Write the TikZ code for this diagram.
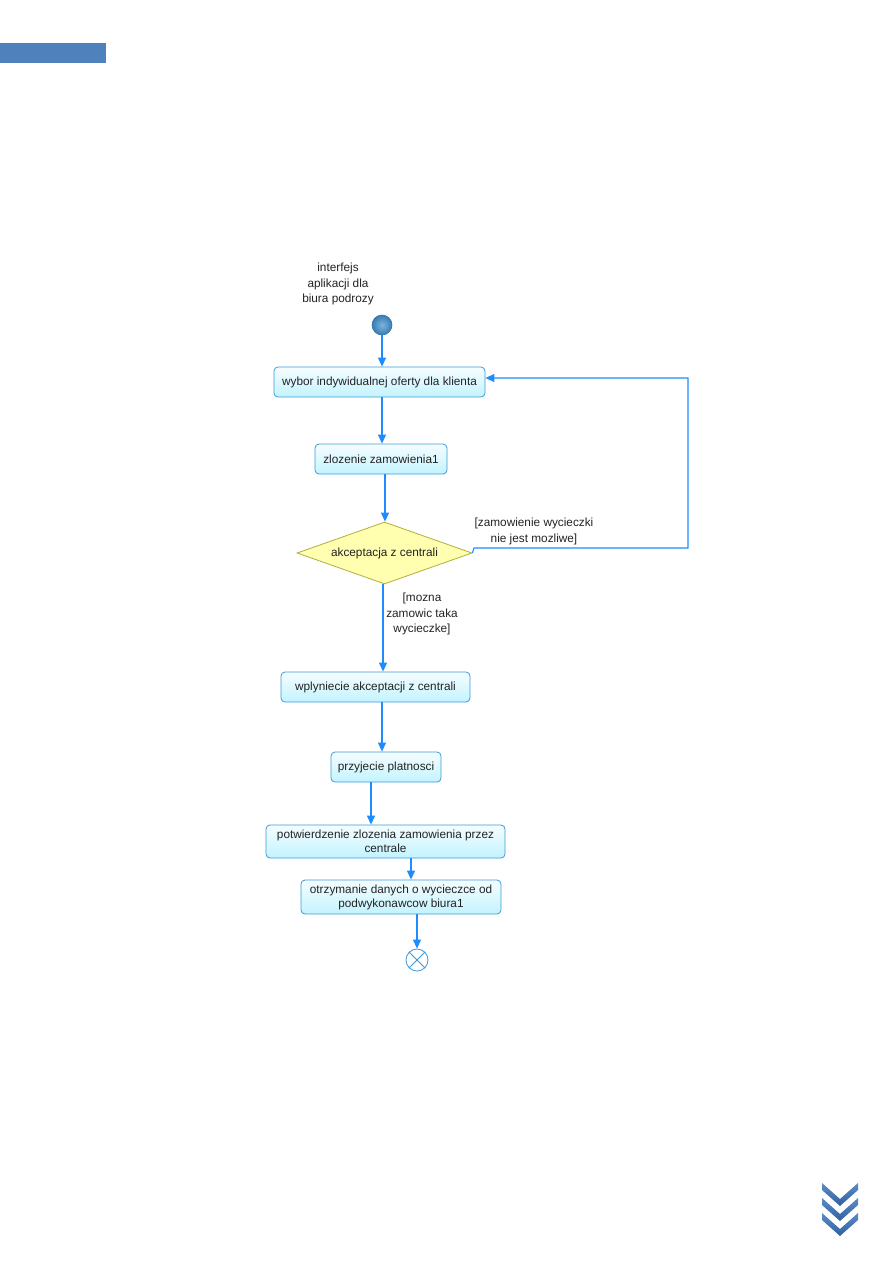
\documentclass[tikz,border=0pt]{standalone}
\usepackage{fontspec}
\setmainfont{Liberation Sans}
\usetikzlibrary{arrows.meta,shapes.geometric,shadings}
\definecolor{flow}{RGB}{30,140,255}
\definecolor{boxline}{RGB}{60,155,215}
\definecolor{boxtop}{RGB}{245,253,255}
\definecolor{boxbot}{RGB}{195,243,255}
\definecolor{diafill}{RGB}{255,255,175}
\definecolor{dialine}{RGB}{175,175,60}
\definecolor{barblue}{RGB}{79,129,189}
\definecolor{txt}{RGB}{35,35,35}
\definecolor{ballin}{RGB}{125,180,220}
\definecolor{ballout}{RGB}{55,125,180}
\tikzset{
  actbox/.style={draw=boxline, line width=0.8pt, rounded corners=4pt,
    top color=boxtop, bottom color=boxbot, inner sep=0pt, align=center,
    text=txt, font=\fontsize{11.8}{14}\selectfont},
  decision/.style={diamond, aspect=2.82, draw=dialine, line width=0.8pt, fill=diafill,
    inner sep=0pt, text=txt, font=\fontsize{11.8}{14}\selectfont},
  flowline/.style={draw=flow, line width=1.1pt, -{Triangle[width=8pt,length=9pt]}},
  guard/.style={text=txt, font=\fontsize{11.8}{15.5}\selectfont, align=center, inner sep=0pt}
}
\begin{document}
\begin{tikzpicture}[x=1pt,y=-1pt]
\useasboundingbox (0,0) rectangle (893,1263);
% header bar
\fill[barblue] (0,43) rectangle (106,63);
% start label
\node[guard] (lbl) at (338,284) {interfejs\\aplikacji dla\\biura podrozy};
% start node
\node[circle, minimum size=20pt, inner sep=0pt, draw={rgb,255:red,50;green,115;blue,165}, line width=0.6pt,
  inner color=ballin, outer color=ballout] (start) at (382,325) {};
% activities
\node[actbox, minimum width=211pt, minimum height=30pt] (b1) at (379.5,382) {wybor indywidualnej oferty dla klienta};
\node[actbox, minimum width=132pt, minimum height=30pt] (b2) at (381,459) {zlozenie zamowienia1};
\node[decision, minimum width=175pt, minimum height=62pt] (dia) at (384.5,553) {akceptacja z centrali};
\node[actbox, minimum width=189pt, minimum height=30pt] (b3) at (375.5,687) {wplyniecie akceptacji z centrali};
\node[actbox, minimum width=110pt, minimum height=30pt] (b4) at (386,767) {przyjecie platnosci};
\node[actbox, minimum width=239pt, minimum height=33pt] (b5) at (385.5,841.5) {potwierdzenie zlozenia zamowienia przez\\centrale};
\node[actbox, minimum width=200pt, minimum height=34pt] (b6) at (401,897) {otrzymanie danych o wycieczce od\\podwykonawcow biura1};
% end node
\node[circle, minimum size=22pt, inner sep=0pt, draw=boxline, line width=0.8pt, fill=white] (end) at (417,960) {};
\draw[boxline, line width=0.8pt] (end.north east) -- (end.south west) (end.north west) -- (end.south east);
% helper x positions
\coordinate (x1) at (382,0);
\coordinate (x2) at (385,0);
\coordinate (x3) at (383,0);
\coordinate (x4) at (371,0);
\coordinate (x5) at (411,0);
\coordinate (r0) at (474,548);
\coordinate (r1) at (688,548);
\coordinate (r2) at (688,378);
% flows
\draw[flowline] (start.south) -- (start |- b1.north);
\draw[flowline] (x1 |- b1.south) -- (x1 |- b2.north);
\draw[flowline] (x2 |- b2.south) -- (x2 |- dia.north);
\draw[flowline] (x3 |- dia.south) -- (x3 |- b3.north);
\node[guard] (g2) at (422,614) {[mozna\\zamowic taka\\wycieczke]};
\draw[flowline] (dia.east) -- (r0) -- (r1) -- (r2) -- (b1.east |- r2);
\node[guard, font=\fontsize{11.8}{16}\selectfont] (g1) at (534,531) {[zamowienie wycieczki\\nie jest mozliwe]};
\draw[flowline] (x1 |- b3.south) -- (x1 |- b4.north);
\draw[flowline] (x4 |- b4.south) -- (x4 |- b5.north);
\draw[flowline] (x5 |- b5.south) -- (x5 |- b6.north);
\draw[flowline] (end |- b6.south) -- (end.north);
% chevrons
\foreach \dy in {0,15,30} {
  \shade[top color={rgb,255:red,90;green,140;blue,200}, bottom color={rgb,255:red,50;green,95;blue,160}]
    (822,1183+\dy) -- (840,1199+\dy) -- (858,1183+\dy) -- (858,1190+\dy) -- (840,1206+\dy) -- (822,1190+\dy) -- cycle;
}
\end{tikzpicture}
\end{document}
